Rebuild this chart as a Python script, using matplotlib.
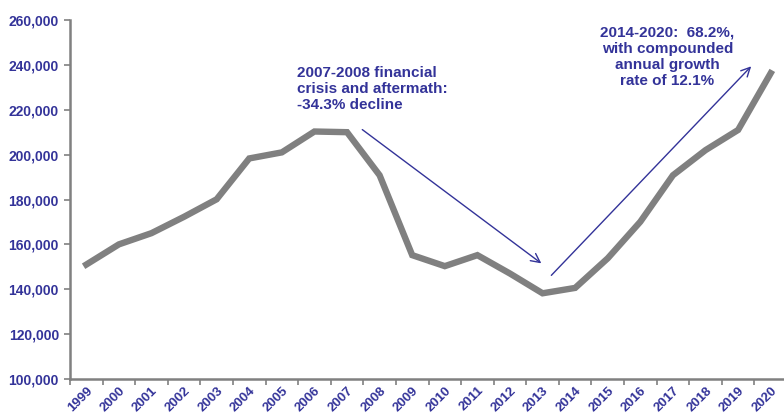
import matplotlib.pyplot as plt
import numpy as np

years = [str(y) for y in range(1999, 2021)]
values = [151000, 160000, 165000, 172300, 180100, 198300, 201000, 210300, 210000,
          190800, 155200, 150300, 155200, 147000, 138200, 140600, 153800, 170100,
          190800, 202000, 211000, 236300]
yticks = list(range(100000, 260001, 20000))

blue = "#333399"
gray = "#808080"

plt.rcParams["font.family"] = ["Liberation Sans", "DejaVu Sans"]

fig = plt.figure(figsize=(7.84, 4.16), dpi=100)
ax = fig.add_axes([70 / 784, 1 - 379 / 416, 717 / 784, 359 / 416])

x = np.arange(len(years))
ax.plot(x, values, color=gray, lw=4.6, solid_joinstyle="miter")

ax.set_xlim(-0.5, len(years) - 0.5)
ax.set_ylim(100000, 260000)

# ticks at category boundaries, labels in the middle
ax.set_xticks(np.arange(-0.5, len(years), 1.0))
ax.set_xticklabels([])
ax.set_xticks(x, minor=True)
ax.set_xticklabels(years, minor=True, rotation=45, ha="right", va="top",
                   rotation_mode="anchor", fontsize=9.5, fontweight="bold", color=blue)
ax.tick_params(axis="x", which="minor", length=0, pad=4)
ax.tick_params(axis="x", which="major", length=4, width=1.2, color=gray, direction="out")

ax.set_yticks(yticks)
ax.set_yticklabels([f"{v:,}" for v in yticks], fontsize=10, fontweight="bold", color=blue)
ax.tick_params(axis="y", length=4, width=1.2, color=gray, direction="out", pad=4)

for s in ["top", "right"]:
    ax.spines[s].set_visible(False)
for s in ["left", "bottom"]:
    ax.spines[s].set_color(gray)
    ax.spines[s].set_linewidth(1.8)

ax.annotate("", xy=(14.03, 150800), xytext=(8.4, 211900),
            arrowprops=dict(arrowstyle="->", color=blue, lw=1.0, mutation_scale=16))
ax.annotate("", xy=(20.46, 240250), xytext=(14.21, 145300),
            arrowprops=dict(arrowstyle="->", color=blue, lw=1.0, mutation_scale=16))

ax.text(6.47, 239500, "2007-2008 financial\ncrisis and aftermath:\n-34.3% decline",
        ha="left", va="top", fontsize=11, fontweight="bold", color=blue, linespacing=1.2)
ax.text(17.83, 257500, "2014-2020:  68.2%,\nwith compounded\nannual growth\nrate of 12.1%",
        ha="center", va="top", fontsize=11, fontweight="bold", color=blue, linespacing=1.2)

fig.savefig("out.png", dpi=100)
